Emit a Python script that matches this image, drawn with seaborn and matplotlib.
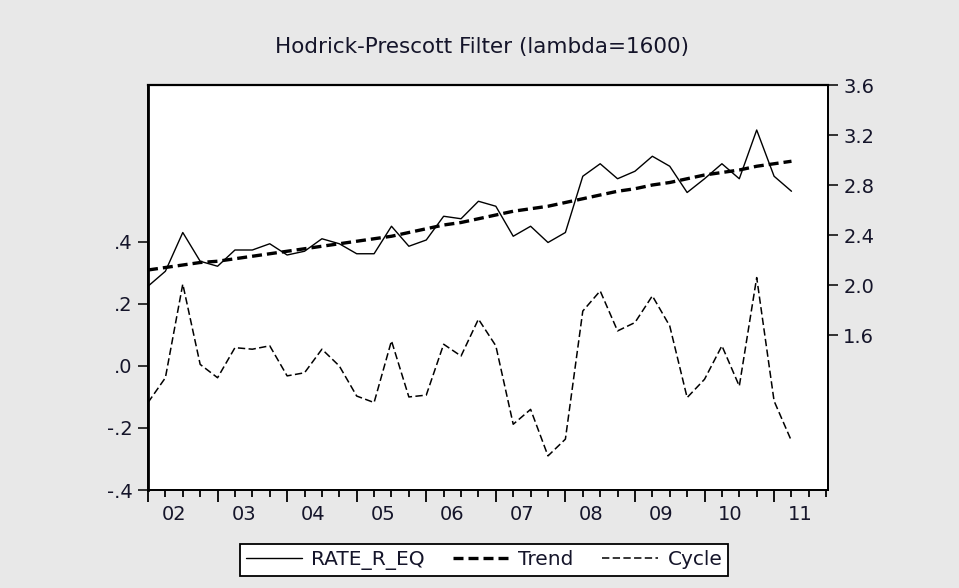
import numpy as np
import pandas as pd
import matplotlib
matplotlib.use("Agg")
import matplotlib.pyplot as plt
import seaborn as sns

# ---- data (quarterly, 2002Q1 .. 2011Q2) ----
quarters = list(range(38))  # 0 = 2002Q1
year_labels = ["02", "03", "04", "05", "06", "07", "08", "09", "10", "11"]

rate_r_eq = [1.99, 2.11, 2.42, 2.19, 2.15, 2.28, 2.28, 2.33, 2.24, 2.27,
             2.37, 2.33, 2.25, 2.25, 2.47, 2.31, 2.36, 2.55, 2.53, 2.67,
             2.63, 2.39, 2.47, 2.34, 2.42, 2.87, 2.97, 2.85, 2.91, 3.03,
             2.95, 2.74, 2.85, 2.97, 2.85, 3.24, 2.87, 2.75]

trend = [2.12, 2.14, 2.16, 2.18, 2.19, 2.21, 2.23, 2.25, 2.27, 2.29,
         2.31, 2.33, 2.35, 2.37, 2.39, 2.42, 2.45, 2.48, 2.50, 2.53,
         2.56, 2.59, 2.61, 2.63, 2.66, 2.69, 2.72, 2.75, 2.77, 2.80,
         2.82, 2.85, 2.88, 2.90, 2.92, 2.95, 2.97, 2.99]

cycle = [-0.118, -0.038, 0.264, 0.005, -0.038, 0.059, 0.054, 0.065, -0.032, -0.022,
         0.054, 0.000, -0.097, -0.118, 0.081, -0.100, -0.094, 0.070, 0.032, 0.151,
         0.065, -0.188, -0.140, -0.290, -0.236, 0.177, 0.242, 0.113, 0.140, 0.226,
         0.129, -0.102, -0.043, 0.065, -0.065, 0.285, -0.113, -0.242]

left_ticks = [-0.4, -0.2, 0.0, 0.2, 0.4]
left_ticklabels = ["-.4", "-.2", ".0", ".2", ".4"]
right_ticks = [1.6, 2.0, 2.4, 2.8, 3.2, 3.6]
right_ticklabels = ["1.6", "2.0", "2.4", "2.8", "3.2", "3.6"]

df = pd.DataFrame({"q": quarters, "RATE_R_EQ": rate_r_eq,
                   "Trend": trend, "Cycle": cycle})

# ---- style ----
sns.set_theme(style="ticks")
plt.rcParams["font.family"] = ["DejaVu Sans"]
bg = "#e8e8e8"
txt = "#15152a"
fs = 14
lfs = 14.5

W, H = 959, 588
fig = plt.figure(figsize=(W / 100, H / 100), dpi=100, facecolor=bg)
ax = fig.add_axes([148 / W, 1 - 490 / H, (828 - 148) / W, (490 - 85) / H])
ax.set_facecolor("white")
ax2 = ax.twinx()

# cycle on left axis
sns.lineplot(data=df, x="q", y="Cycle", ax=ax, color="black", linewidth=1.1)
l_cycle = ax.lines[-1]
l_cycle.set_linestyle((0, (4.8, 2.2)))

# actual and trend on right axis
sns.lineplot(data=df, x="q", y="RATE_R_EQ", ax=ax2, color="black", linewidth=1.0)
l_act = ax2.lines[-1]
sns.lineplot(data=df, x="q", y="Trend", ax=ax2, color="black", linewidth=2.4)
l_trend = ax2.lines[-1]
l_trend.set_linestyle((0, (3.0, 1.5)))

ax.set_xlim(0, 39.1)
ax.set_ylim(-0.4, 0.906)
ax2.set_ylim(0.36, 3.6)

ax.set_xlabel("")
ax.set_ylabel("")
ax2.set_ylabel("")

ax.set_yticks(left_ticks)
ax.set_yticklabels(left_ticklabels)
ax2.set_yticks(right_ticks)
ax2.set_yticklabels(right_ticklabels)

# x ticks: major at year starts, minor at quarters, labels centered on years
ax.set_xticks(list(range(0, 40, 4)))
ax.set_xticklabels([""] * len(range(0, 40, 4)))
ax.set_xticks(list(range(0, 40)), minor=True)
ax.tick_params(axis="x", which="major", length=8.6, width=1.3, direction="out", color="black")
ax.tick_params(axis="x", which="minor", length=5.0, width=1.3, direction="out", color="black")
ax.tick_params(axis="y", which="major", length=7.5, width=1.1, direction="out",
               labelsize=fs, pad=3.5, color="black", labelcolor=txt)
ax2.tick_params(axis="y", which="major", length=7.5, width=1.1, direction="out",
                labelsize=fs, pad=3.5, color="black", labelcolor=txt)

sec = ax.secondary_xaxis("bottom")
sec.set_xticks([1.5 + 4 * k for k in range(len(year_labels))])
sec.set_xticklabels(year_labels)
sec.tick_params(axis="x", length=0, labelsize=fs, pad=11, labelcolor=txt)
sec.spines["bottom"].set_visible(False)

for a in (ax, ax2):
    for s in a.spines.values():
        s.set_visible(True)
        s.set_color("black")
        s.set_linewidth(1.3)
ax.spines["left"].set_linewidth(2.0)
ax.spines["top"].set_linewidth(1.6)

fig.text(482 / W, 1 - 47 / H, "Hodrick-Prescott Filter (lambda=1600)",
         ha="center", va="center", fontsize=15.5, color=txt)

leg = fig.legend(handles=[l_act, l_trend, l_cycle],
                 labels=["RATE_R_EQ", "Trend", "Cycle"],
                 loc="center", bbox_to_anchor=(484 / W, 1 - 560 / H), ncol=3,
                 frameon=True, fancybox=False, edgecolor="black", facecolor="white",
                 fontsize=lfs, handlelength=2.8, handletextpad=0.45,
                 columnspacing=1.4, borderpad=0.3, borderaxespad=0.0,
                 labelcolor=txt)
leg.get_frame().set_linewidth(1.3)
leg.get_frame().set_alpha(1.0)

fig.savefig("out.png", dpi=100, facecolor=bg)
